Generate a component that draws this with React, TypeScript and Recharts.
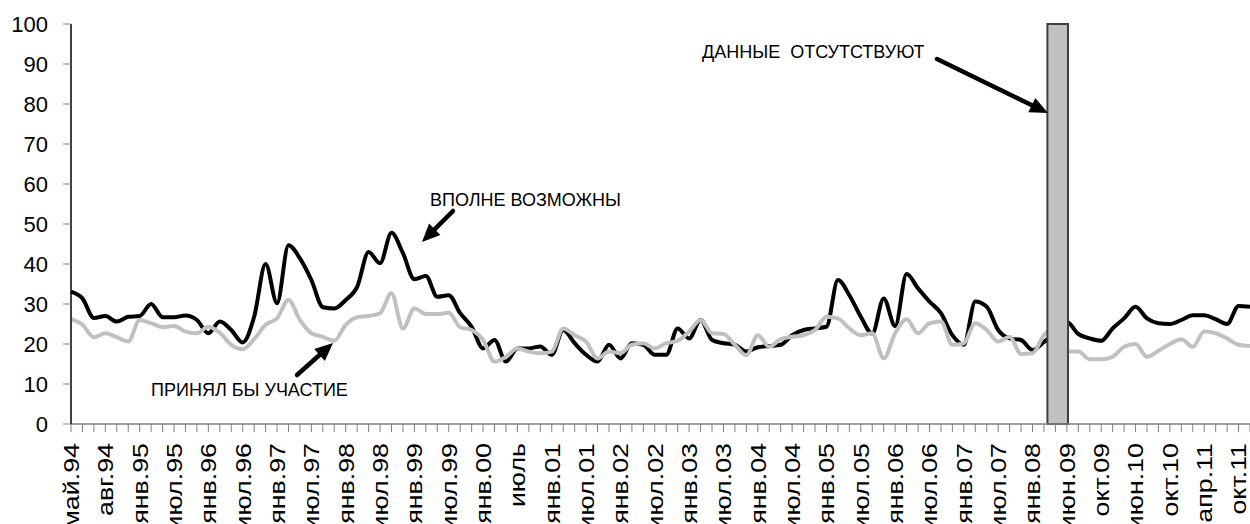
import { LineChart, Line, XAxis, YAxis, ReferenceArea } from "recharts";

// every third survey wave carries a label
const labels = [
  "май.94", "авг.94", "янв.95", "июл.95", "янв.96", "июл.96", "янв.97", "июл.97",
  "янв.98", "июл.98", "янв.99", "июл.99", "янв.00", "июль", "янв.01", "июл.01",
  "янв.02", "июл.02", "янв.03", "июл.03", "янв.04", "июл.04", "янв.05", "июл.05",
  "янв.06", "июл.06", "янв.07", "июл.07", "янв.08", "июн.09", "окт.09", "июн.10",
  "окт.10", "апр.11", "окт.11",
];

// "вполне возможны" (black)
const possible = [
  33.1, 31.4, 26.5, 27, 25.6, 26.8, 27, 30, 26.7, 26.7, 27.1, 26, 22.7, 25.6, 23.5, 20.4,
  26.8, 40, 30.2, 44.7, 41.4, 36, 29.2, 28.9, 31, 34.3, 43, 40.2, 47.8, 42.7, 36.2, 37,
  31.8, 32.2, 27.7, 24.3, 18.9, 21, 15.6, 18.9, 18.9, 19.4, 17.3, 23.5, 20.2, 17.3, 15.6, 19.8,
  16.4, 20.2, 19.8, 17.3, 17.3, 23.9, 21.4, 26, 21, 20.2, 19.8, 18.1, 19.2, 19.5, 19.8, 22.2,
  23.5, 23.9, 24.3, 36, 32.2, 26.8, 22.6, 31.4, 24.5, 37.5, 33.9, 30.6, 27.7, 22.2, 19.8, 30.6,
  29.3, 23.5, 21.4, 21, 18.5, 20.5, 23, 25.5, 22.5, 21.4, 20.8, 23.9, 26.4, 29.3, 26.4, 25.2,
  25, 26, 27.2, 27.2, 26.2, 25, 29.5, 29.3,
];

// "принял бы участие" (grey)
const willJoin = [
  26.2, 24.8, 21.7, 22.7, 21.7, 20.6, 26, 25.2, 24.2, 24.5, 23.1, 22.7, 24.3, 22.8, 19.8, 18.7,
  21.2, 24.8, 26.4, 31, 26, 22.7, 21.8, 20.8, 24.8, 26.7, 27, 27.7, 32.7, 23.9, 28.9, 27.5,
  27.5, 27.8, 24.2, 23.5, 21, 15.6, 16.8, 18.9, 18.1, 17.7, 18.1, 23.9, 22.2, 20.6, 16.4, 18.1,
  17.7, 19.8, 20.2, 18.9, 20.2, 20.8, 23.1, 26, 22.7, 22.5, 19.8, 17.2, 22.2, 19.3, 21.2, 21.8,
  22.2, 23.5, 26.8, 26.4, 23.9, 22.2, 22.7, 16.4, 22.7, 26.2, 22.7, 25.2, 25.6, 19.8, 20.2, 25.2,
  23.5, 20.6, 21.8, 17.5, 17.7, 22.2, 24, 18.1, 18.1, 16.2, 16.2, 16.8, 19.3, 20, 16.8, 18.3,
  20, 21.2, 19.3, 23.1, 22.7, 21.4, 19.8, 19.5,
];

// waves without data, in category-index units
const noDataFrom = 85.3;
const noDataTo = 87.1;

const yTicks = [0, 10, 20, 30, 40, 50, 60, 70, 80, 90, 100];

const data = possible.map((v, i) => ({ i, possible: v, willJoin: willJoin[i] }));
const xTicks = data.map((d) => d.i);

const font = '"Liberation Sans", Arial, sans-serif';

function MonthTick({ x, y, payload }: any) {
  const idx = payload.value;
  if (idx % 3 !== 0) return <g />;
  return (
    <g transform={`translate(${x},${y}) rotate(-90) scale(1.22,1)`}>
      <text textAnchor="end" dy="0.36em" fontSize={22} fontFamily={font} fill="#000">
        {labels[idx / 3]}
      </text>
    </g>
  );
}

function Arrow({ from, to }: { from: number[]; to: number[] }) {
  const [x1, y1] = from;
  const [x2, y2] = to;
  const len = Math.hypot(x2 - x1, y2 - y1);
  const ux = (x2 - x1) / len;
  const uy = (y2 - y1) / len;
  const bx = x2 - ux * 18;
  const by = y2 - uy * 18;
  const pts = `${x2},${y2} ${bx - uy * 8},${by + ux * 8} ${bx + uy * 8},${by - ux * 8}`;
  return (
    <g>
      <line x1={x1} y1={y1} x2={bx + ux * 3} y2={by + uy * 3} stroke="#000" strokeWidth={4.5} strokeLinecap="round" />
      <polygon points={pts} fill="#000" />
    </g>
  );
}

function Notes() {
  const t = { fontFamily: font, fontSize: 18, fill: "#000" };
  return (
    <svg width={1250} height={524} style={{ position: "absolute", left: 0, top: 0, pointerEvents: "none" }}>
      <text x={430} y={206} {...t}>ВПОЛНЕ ВОЗМОЖНЫ</text>
      <Arrow from={[453, 211]} to={[422, 242]} />
      <text x={151} y={396} {...t}>ПРИНЯЛ БЫ УЧАСТИЕ</text>
      <Arrow from={[297, 375]} to={[333, 343]} />
      <text x={702} y={58} {...t} style={{ whiteSpace: "pre" }}>ДАННЫЕ  ОТСУТСТВУЮТ</text>
      <Arrow from={[937, 59]} to={[1048, 113]} />
    </svg>
  );
}

export default function App() {
  return (
    <div style={{ position: "absolute", left: 0, top: 0, width: 1250, height: 524, overflow: "hidden", background: "#fff" }}>
      <LineChart width={1250} height={524} data={data} margin={{ top: 24, right: 0, bottom: 0, left: 0 }}>
        <XAxis
          dataKey="i"
          type="number"
          domain={[0, 103]}
          ticks={xTicks}
          interval={0}
          height={100}
          tickSize={8}
          tickMargin={11}
          axisLine={{ stroke: "#808080", strokeWidth: 1.5 }}
          tickLine={{ stroke: "#808080" }}
          tick={(p: any) => <MonthTick {...p} />}
        />
        <YAxis
          domain={[0, 100]}
          ticks={yTicks}
          interval={0}
          width={71}
          tickSize={8}
          tickMargin={15}
          axisLine={{ stroke: "#000", strokeWidth: 1.5 }}
          tickLine={{ stroke: "#808080" }}
          tick={{ fill: "#000", fontSize: 22, fontFamily: font }}
        />
        <Line type="monotone" dataKey="possible" stroke="#000" strokeWidth={4} dot={false} isAnimationActive={false} />
        <Line type="monotone" dataKey="willJoin" stroke="#c0c0c0" strokeWidth={4} dot={false} isAnimationActive={false} />
        <ReferenceArea
          x1={noDataFrom}
          x2={noDataTo}
          y1={0}
          y2={100}
          fill="#c0c0c0"
          fillOpacity={1}
          stroke="#404040"
          strokeWidth={2}
          zIndex={450}
        />
      </LineChart>
      <Notes />
    </div>
  );
}
